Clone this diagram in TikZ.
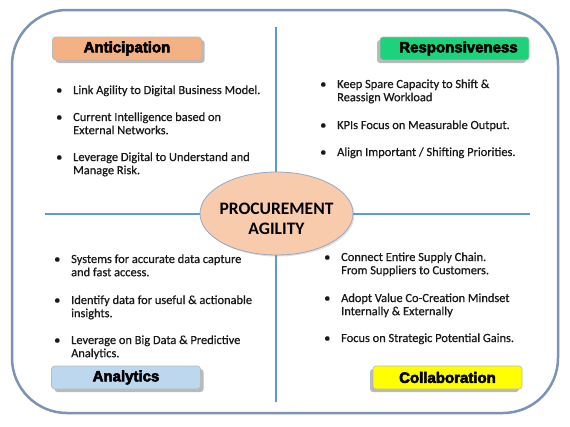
\documentclass[tikz,border=0pt]{standalone}
\usepackage{fontspec}
\setmainfont{Carlito}
\newfontfamily\bodyfont{Carlito}[FakeBold=0.6]
\newfontfamily\centerfont{Carlito Bold}
\newfontfamily\headfont{Liberation Sans Bold}[FakeBold=3.5]
\usetikzlibrary{shapes.geometric,shadows}
\definecolor{frame}{HTML}{7B93B5}
\definecolor{divider}{HTML}{5B9BD5}
\definecolor{peach}{HTML}{F8CBAD}
\definecolor{orangehead}{HTML}{F4B183}
\definecolor{greenhead}{HTML}{1CD27B}
\definecolor{bluehead}{HTML}{BDD7EE}
\definecolor{yellowhead}{HTML}{FFFF00}
\newcommand{\itemtext}[2]{\begin{tabular}[t]{@{}p{17pt}@{}l@{}}\textbullet & #1\\ & #2\end{tabular}}
\newcommand{\itemone}[1]{\begin{tabular}[t]{@{}p{17pt}@{}l@{}}\textbullet & #1\end{tabular}}
\tikzset{
  head/.style={draw=gray!55, line width=0.6pt, rounded corners=3pt, minimum width=149pt, minimum height=23pt,
    inner sep=0pt, font=\headfont\fontsize{15}{17}\selectfont},
  shadowright/.style={drop shadow={shadow xshift=3pt, shadow yshift=-3pt, opacity=0.45, fill=black!60}},
  shadowleft/.style={drop shadow={shadow xshift=-3pt, shadow yshift=-3pt, opacity=0.45, fill=black!60}},
  bulletitem/.style={anchor=base west, inner sep=0pt, text=black!90, font=\bodyfont\fontsize{12.4}{13.2}\selectfont},
}
\begin{document}
\begin{tikzpicture}[x=1pt,y=-1pt]
\useasboundingbox (0,0) rectangle (570,426);
\fill[white] (0,0) rectangle (570,426);
% frame
\draw[frame, line width=2.5pt, rounded corners=55pt] (12,10) rectangle (558,413);
% dividers
\draw[divider, line width=1.3pt] (276,27) -- (276,402);
\draw[divider, line width=1.3pt] (45,214) -- (530,214);
% center ellipse
\node[ellipse, draw=frame!80, line width=0.8pt, fill=peach, minimum width=153pt, minimum height=83pt, inner sep=0pt,
  drop shadow={shadow xshift=1.5pt, shadow yshift=-1.5pt, opacity=0.25, fill=black!50}] (agility) at (276.5,213.5) {};
\node[font=\centerfont\fontsize{17.5}{20}\selectfont, align=center, inner sep=0pt] (agilitytext) at (276.5,219) {PROCUREMENT\\AGILITY};
% headers
\node[head, fill=orangehead, shadowright] (anticipation) at (127,48.5) {Anticipation};
\node[head, fill=greenhead, shadowleft] (responsiveness) at (454.5,48.5) {\hspace*{8pt}Responsiveness};
\node[head, fill=bluehead, shadowright] (analytics) at (126,377.5) {Analytics};
\node[head, fill=yellowhead, shadowleft] (collaboration) at (447.5,377.5) {Collaboration};
% top left
\node[bulletitem] (tl1) at (56,94) {\itemone{Link Agility to Digital Business Model.}};
\node[bulletitem] (tl2) at (56,121) {\itemtext{Current Intelligence based on}{External Networks.}};
\node[bulletitem] (tl3) at (56,161) {\itemtext{Leverage Digital to Understand and}{Manage Risk.}};
% top right
\node[bulletitem] (tr1) at (320,88) {\itemtext{Keep Spare Capacity to Shift \&}{Reassign Workload}};
\node[bulletitem] (tr2) at (320,129) {\itemone{KPIs Focus on Measurable Output.}};
\node[bulletitem] (tr3) at (320,156) {\itemone{Align Important / Shifting Priorities.}};
% bottom left
\node[bulletitem] (bl1) at (54,263) {\itemtext{Systems for accurate data capture}{and fast access.}};
\node[bulletitem] (bl2) at (54,304) {\itemtext{Identify data for useful \& actionable}{insights.}};
\node[bulletitem] (bl3) at (54,344) {\itemtext{Leverage on Big Data \& Predictive}{Analytics.}};
% bottom right
\node[bulletitem] (br1) at (324,261) {\itemtext{Connect Entire Supply Chain.}{From Suppliers to Customers.}};
\node[bulletitem] (br2) at (324,302) {\itemtext{Adopt Value Co-Creation Mindset}{Internally \& Externally}};
\node[bulletitem] (br3) at (324,342) {\itemone{Focus on Strategic Potential Gains.}};
\end{tikzpicture}
\end{document}
